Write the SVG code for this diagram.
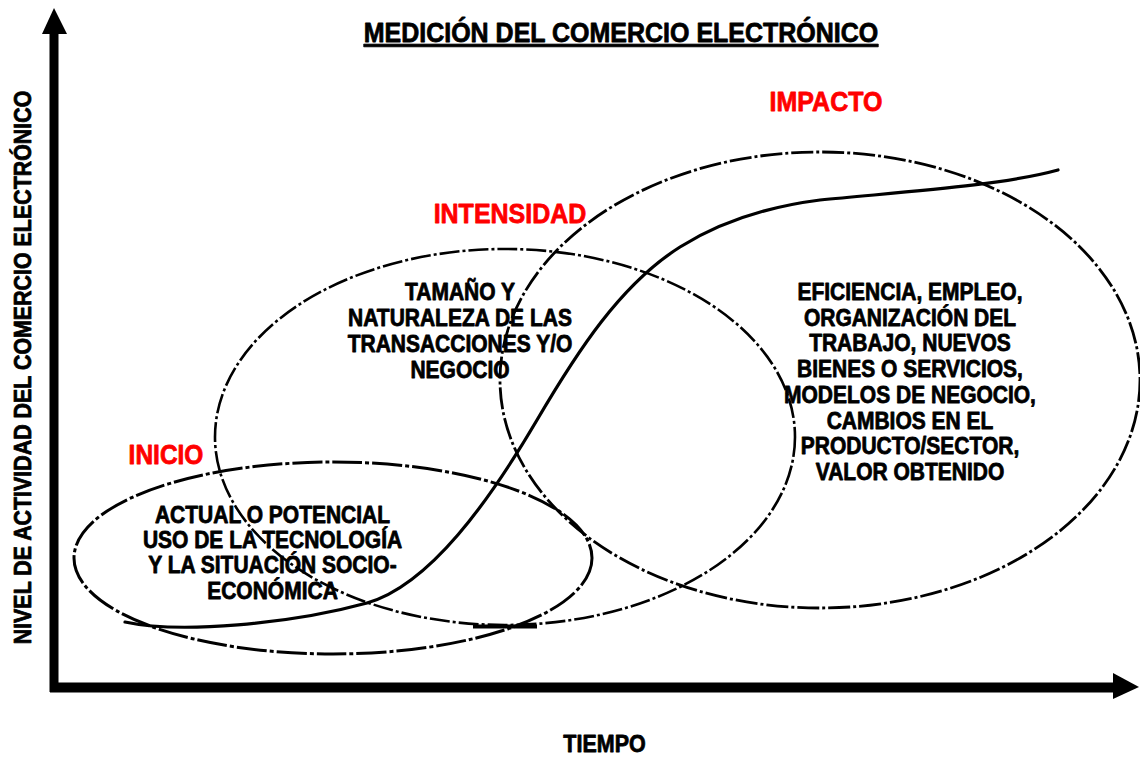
<svg xmlns="http://www.w3.org/2000/svg" width="1140" height="757" viewBox="0 0 1140 757">
<style>
text{font-family:"Liberation Sans",Arial,sans-serif;font-weight:bold;text-anchor:middle;fill:#000;stroke:#000;stroke-width:0.7px;stroke-linejoin:round}
.red{fill:#ff0000;stroke:#ff0000}
.t25{font-size:25px}
.t21{font-size:21px}
.ell{fill:none;stroke:#000;stroke-linecap:butt}
.axis{stroke:#000;fill:none}
</style>
<rect width="1140" height="757" fill="#fff"/>

<g id="axes">
<line class="axis" x1="54" y1="30" x2="54" y2="692" stroke-width="9"/>
<polygon points="54,8 42,34 67,34" fill="#000"/>
<line class="axis" x1="50" y1="687.5" x2="1116" y2="687.5" stroke-width="10"/>
<polygon points="1139,687 1113,673 1113,699" fill="#000"/>
<text class="t21" style="font-size:21.4px" transform="translate(31,367.5) rotate(-90) scale(1,1.12)">NIVEL DE ACTIVIDAD DEL COMERCIO ELECTRÓNICO</text>
<text class="t21" style="font-size:21.5px" transform="translate(604.5,752) scale(1,1.12)">TIEMPO</text>
</g>

<g id="title">
<text class="t25" text-decoration="underline" transform="translate(621,42) scale(1,1.1)">MEDICIÓN DEL COMERCIO ELECTRÓNICO</text>
</g>

<g id="impacto">
<ellipse class="ell" cx="820" cy="380" rx="320" ry="228" stroke-width="2.8" stroke-dasharray="22 3 3 3"/>
<text class="t25 red" transform="translate(826,111) scale(1,1.12)">IMPACTO</text>
<text class="t21" transform="translate(910,300) scale(1,1.12)">EFICIENCIA, EMPLEO,</text>
<text class="t21" transform="translate(910,325.7) scale(1,1.12)">ORGANIZACIÓN DEL</text>
<text class="t21" transform="translate(910,351.4) scale(1,1.12)">TRABAJO, NUEVOS</text>
<text class="t21" transform="translate(910,377.1) scale(1,1.12)">BIENES O SERVICIOS,</text>
<text class="t21" transform="translate(910,402.8) scale(1,1.12)">MODELOS DE NEGOCIO,</text>
<text class="t21" transform="translate(910,428.5) scale(1,1.12)">CAMBIOS EN EL</text>
<text class="t21" transform="translate(910,454.2) scale(1,1.12)">PRODUCTO/SECTOR,</text>
<text class="t21" transform="translate(910,480) scale(1,1.12)">VALOR OBTENIDO</text>
</g>

<g id="intensidad">
<ellipse class="ell" cx="505" cy="437" rx="290" ry="188" stroke-width="2.6" stroke-dasharray="20 3 3 3"/>
<line x1="473" y1="626.5" x2="537" y2="626.5" stroke="#000" stroke-width="4"/>
<text class="t25 red" transform="translate(510,223) scale(1,1.12)">INTENSIDAD</text>
<text class="t21" transform="translate(460,300) scale(1,1.12)">TAMAÑO Y</text>
<text class="t21" transform="translate(460,326) scale(1,1.12)">NATURALEZA DE LAS</text>
<text class="t21" transform="translate(460,352) scale(1,1.12)">TRANSACCIONES Y/O</text>
<text class="t21" transform="translate(460,378) scale(1,1.12)">NEGOCIO</text>
</g>

<g id="inicio">
<ellipse class="ell" cx="333" cy="558" rx="259" ry="96" stroke-width="3" stroke-dasharray="30 3 4 3"/>
<text class="t25 red" style="font-size:24.5px" transform="translate(166,464) scale(1,1.12)">INICIO</text>
<text class="t21" transform="translate(272.5,523) scale(1,1.12)">ACTUAL O POTENCIAL</text>
<text class="t21" transform="translate(272.5,548) scale(1,1.12)">USO DE LA TECNOLOGÍA</text>
<text class="t21" transform="translate(272.5,573) scale(1,1.12)">Y LA SITUACIÓN SOCIO-</text>
<text class="t21" transform="translate(272.5,599) scale(1,1.12)">ECONÓMICA</text>
</g>

<g id="connectors">
<path d="M125,622 C180,634 290,624 367,603 C430,585 490,500 537,420 C577,352 620,285 680,247 C720,222 765,207 820,200 C900,192 1000,186 1058,170" fill="none" stroke="#000" stroke-width="3.2" stroke-linecap="round" stroke-linejoin="round"/>
</g>
</svg>
